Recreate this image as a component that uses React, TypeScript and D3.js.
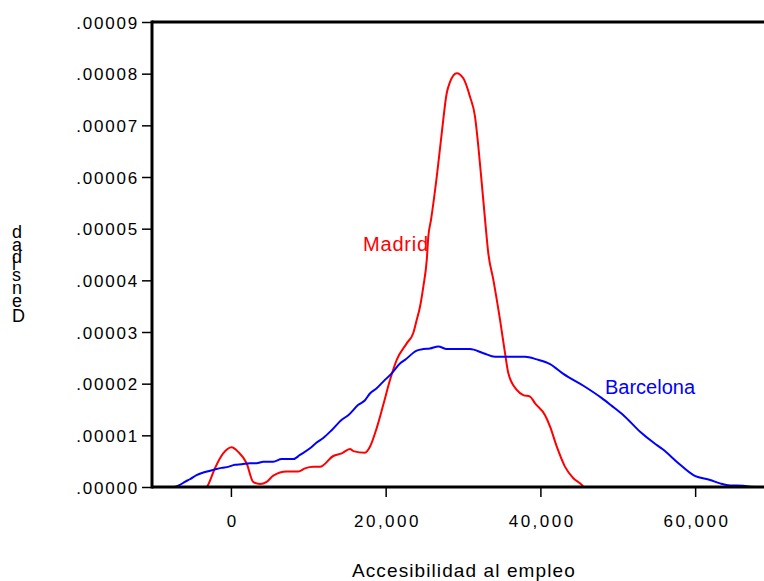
import * as d3 from "d3";
import { useEffect, useRef } from "react";

// density curves (x = accesibilidad, y = densidad)
const madridX = [-3100, -2950, -2070, -1000, 90, 940, 2030, 2880, 3750, 4620, 5470, 7200, 8700, 9570, 10640, 11510, 13230, 14320, 15390, 15820, 17330, 17970, 18840, 19690, 20560, 21430, 22720, 23570, 24010, 24440, 24870, 25310, 25510, 25860, 26600, 27250, 27890, 28320, 29190, 30040, 30910, 31550, 31980, 32420, 32850, 33270, 33920, 34790, 35430, 35860, 36940, 37800, 38660, 39310, 40600, 41250, 42120, 43190, 44260, 45350, 45560];
const madridY = [0, 0.4e-6, 3.6e-6, 6.5e-6, 7.7e-6, 6.8e-6, 4.6e-6, 1.0e-6, 0.6e-6, 1.0e-6, 2.2e-6, 3.0e-6, 3.0e-6, 3.6e-6, 3.9e-6, 3.9e-6, 6.0e-6, 6.5e-6, 7.35e-6, 6.95e-6, 6.65e-6, 7.8e-6, 11.4e-6, 15.9e-6, 20.7e-6, 24.6e-6, 27.8e-6, 29.8e-6, 32.3e-6, 34.9e-6, 38.8e-6, 43.9e-6, 48.4e-6, 51.7e-6, 60.0e-6, 68.5e-6, 76.2e-6, 78.4e-6, 80.1e-6, 79.1e-6, 75.5e-6, 71.7e-6, 65.9e-6, 58.8e-6, 51.7e-6, 45.2e-6, 40.1e-6, 32.3e-6, 25.9e-6, 22.0e-6, 18.8e-6, 17.8e-6, 17.5e-6, 16.2e-6, 13.9e-6, 11.7e-6, 7.8e-6, 3.9e-6, 1.7e-6, 0.4e-6, 0];

const barcelonaX = [-7240, -6600, -5950, -5300, -4440, -3580, -2290, -1200, -350, 520, 1380, 2460, 3320, 4180, 5470, 6560, 8060, 8920, 10220, 11080, 11940, 13020, 14320, 15170, 16460, 17330, 17970, 18840, 19690, 20780, 21850, 22500, 24010, 24870, 25730, 26810, 27890, 30900, 32630, 34140, 38020, 39530, 41250, 42970, 45560, 47940, 49230, 50730, 52890, 54610, 55900, 57840, 59780, 61940, 63230, 64530, 66250, 67110, 68900];
const barcelonaY = [0, 0.4e-6, 1.0e-6, 1.5e-6, 2.3e-6, 2.8e-6, 3.3e-6, 3.7e-6, 3.9e-6, 4.3e-6, 4.4e-6, 4.6e-6, 4.6e-6, 4.9e-6, 4.9e-6, 5.4e-6, 5.4e-6, 6.2e-6, 7.5e-6, 8.6e-6, 9.5e-6, 11.0e-6, 13.0e-6, 13.9e-6, 15.9e-6, 16.8e-6, 18.1e-6, 19.1e-6, 20.4e-6, 22.0e-6, 23.9e-6, 24.6e-6, 26.4e-6, 26.7e-6, 26.8e-6, 27.2e-6, 26.7e-6, 26.7e-6, 25.9e-6, 25.2e-6, 25.2e-6, 24.7e-6, 23.8e-6, 21.9e-6, 19.6e-6, 17.2e-6, 15.7e-6, 13.9e-6, 10.7e-6, 8.6e-6, 7.2e-6, 4.6e-6, 2.3e-6, 1.35e-6, 0.7e-6, 0.3e-6, 0.25e-6, 0.05e-6, 0];

const xTicks = [0, 20000, 40000, 60000];
const yTicks = [0, 0.00001, 0.00002, 0.00003, 0.00004, 0.00005, 0.00006, 0.00007, 0.00008, 0.00009];
const seriesNames = ["Madrid", "Barcelona"];
const seriesColors = ["#ff0000", "#0000ff"];
const xTitle = "Accesibilidad al empleo";
const yTitle = "Densidad";

const FONT = "'Liberation Sans', Arial, Helvetica, sans-serif";

export default function App() {
  const ref = useRef<SVGSVGElement>(null);
  const width = 764;
  const height = 581;
  const marginLeft = 152;
  const marginTop = 22;
  const plotBottom = 487;

  useEffect(() => {
    const svg = d3.select(ref.current);
    svg.selectAll("*").remove();

    const x = d3.scaleLinear().domain([-10200, 68900]).range([marginLeft, width]);
    const y = d3.scaleLinear().domain([0, 0.00009]).range([plotBottom, marginTop]);

    const line = d3
      .line<[number, number]>()
      .x((d) => x(d[0]))
      .y((d) => y(d[1]))
      .curve(d3.curveMonotoneX);

    const series = [
      d3.zip(madridX, madridY) as [number, number][],
      d3.zip(barcelonaX, barcelonaY) as [number, number][],
    ];

    // curves first, frame on top
    series.forEach((s, i) => {
      svg.append("path")
        .attr("d", line(s))
        .attr("fill", "none")
        .attr("stroke", seriesColors[i])
        .attr("stroke-width", 2);
    });

    // y axis
    const yAxis = d3.axisLeft(y)
      .tickValues(yTicks)
      .tickSize(10)
      .tickFormat((d) => d3.format(".5f")(d as number).replace(/^0/, ""));
    const gy = svg.append("g")
      .attr("transform", `translate(${marginLeft},0)`)
      .call(yAxis);
    gy.select(".domain").remove();
    gy.selectAll(".tick line").attr("stroke", "#000").attr("stroke-width", 1.5);
    gy.selectAll(".tick text")
      .attr("font-family", FONT)
      .attr("font-size", 17)
      .attr("letter-spacing", 1.8)
      .attr("fill", "#000")
      .attr("x", -13)
      .attr("dy", "0.36em");

    // x axis
    const xAxis = d3.axisBottom(x)
      .tickValues(xTicks)
      .tickSize(10)
      .tickFormat((d) => d3.format(",")(d as number));
    const gx = svg.append("g")
      .attr("transform", `translate(0,${plotBottom})`)
      .call(xAxis);
    gx.select(".domain").remove();
    gx.selectAll(".tick line").attr("stroke", "#000").attr("stroke-width", 1.5);
    gx.selectAll(".tick text")
      .attr("font-family", FONT)
      .attr("font-size", 17)
      .attr("letter-spacing", 2.5)
      .attr("fill", "#000")
      .attr("dx", 1.3)
      .attr("y", 40)
      .attr("dy", 0);

    // thick frame: left, top, bottom
    const frame = svg.append("g").attr("stroke", "#000").attr("stroke-width", 3);
    frame.append("line").attr("x1", marginLeft).attr("x2", marginLeft).attr("y1", marginTop - 1.5).attr("y2", plotBottom + 1.5);
    frame.append("line").attr("x1", marginLeft).attr("x2", width).attr("y1", marginTop).attr("y2", marginTop);
    frame.append("line").attr("x1", marginLeft).attr("x2", width).attr("y1", plotBottom).attr("y2", plotBottom);

    // series labels
    svg.append("text")
      .attr("x", 363).attr("y", 251)
      .attr("font-family", FONT).attr("font-size", 20)
      .attr("letter-spacing", 0.8)
      .attr("fill", seriesColors[0])
      .text(seriesNames[0]);
    svg.append("text")
      .attr("x", 605).attr("y", 394)
      .attr("font-family", FONT).attr("font-size", 20)
      .attr("fill", seriesColors[1])
      .text(seriesNames[1]);

    // x title
    svg.append("text")
      .attr("x", 352).attr("y", 577)
      .attr("font-family", FONT).attr("font-size", 19)
      .attr("letter-spacing", 1.1)
      .attr("fill", "#000")
      .text(xTitle);

    // y title: upright characters stacked bottom to top
    let yy = 322;
    yTitle.split("").forEach((ch) => {
      const t = svg.append("text")
        .attr("x", 12).attr("y", yy)
        .attr("font-family", FONT).attr("font-size", 18)
        .attr("fill", "#000")
        .text(ch);
      const w = (t.node() as SVGTextElement).getComputedTextLength();
      yy -= w + 2.5;
    });
  }, []);

  return (
    <svg
      ref={ref}
      width={width}
      height={height}
      style={{ position: "absolute", left: 0, top: 0, background: "#fff" }}
    />
  );
}
